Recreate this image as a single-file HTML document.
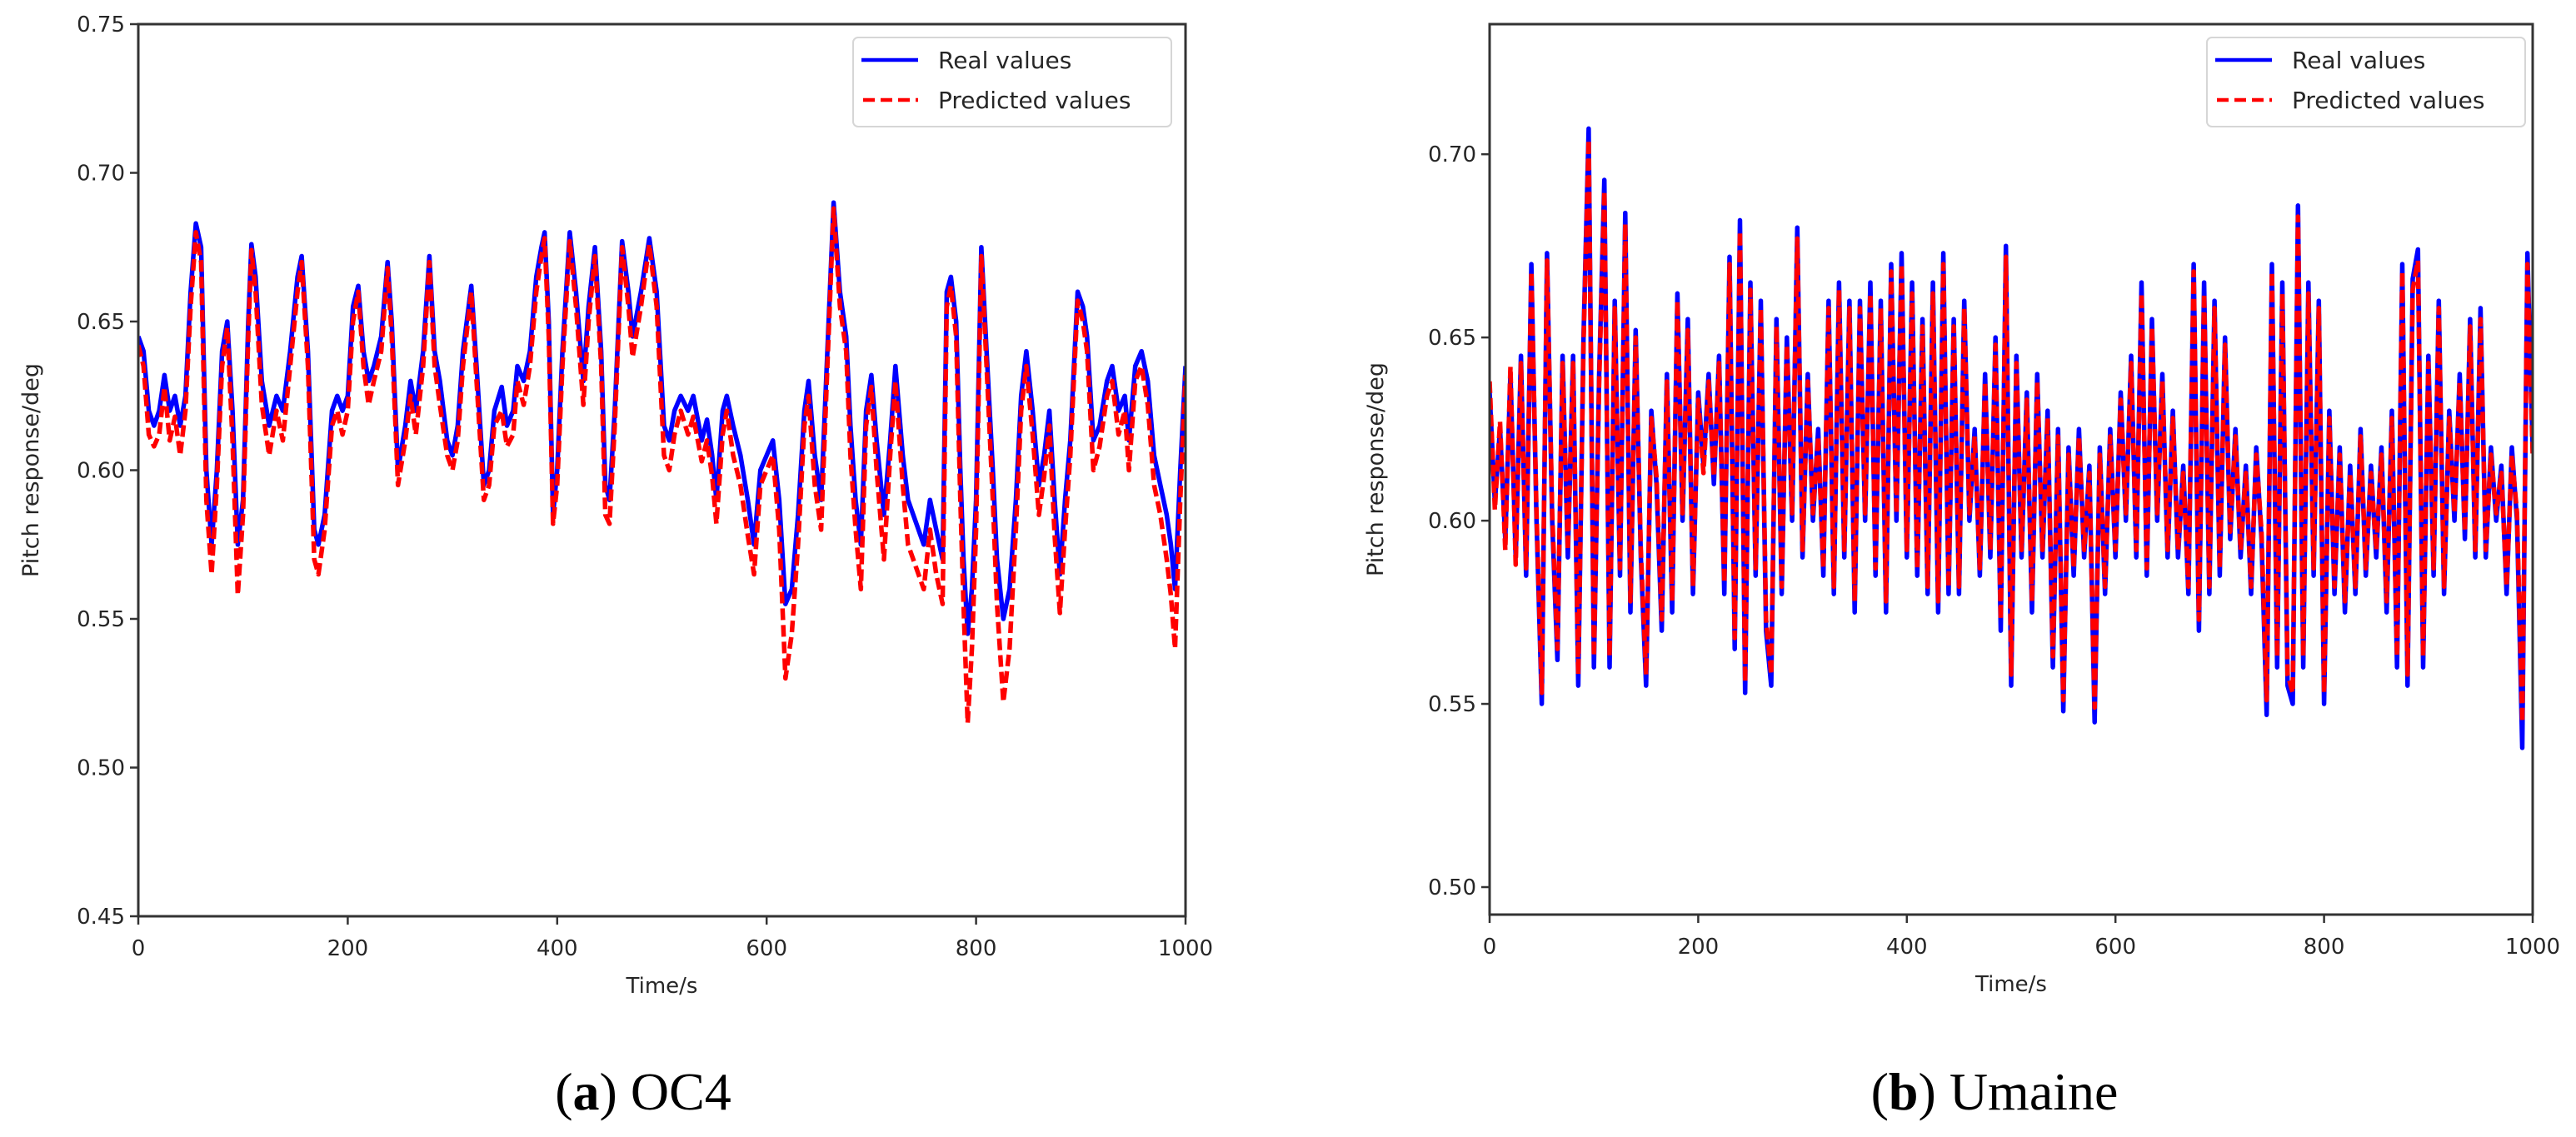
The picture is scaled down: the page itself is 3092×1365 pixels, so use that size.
<!DOCTYPE html>
<html><head><meta charset="utf-8">
<style>
html,body{margin:0;padding:0;background:#fff;}
svg{display:block;}
text{font-family:"DejaVu Sans","Liberation Sans",sans-serif;fill:#262626;}
.cap{font-family:"Liberation Serif",serif;fill:#000;}
</style></head>
<body>
<svg id="fig" width="3092" height="1365" viewBox="0 0 3092 1365" xmlns="http://www.w3.org/2000/svg">
<g id="chartA"></g>
<g id="chartB"></g>
<text class="cap" x="772" y="1332" font-size="64" text-anchor="middle">(<tspan font-weight="bold">a</tspan>) OC4</text>
<text class="cap" x="2394" y="1332" font-size="64" text-anchor="middle">(<tspan font-weight="bold">b</tspan>) Umaine</text>
</svg>
<script>
// ---- Chart A (OC4) data ----
const timesA = [0,5,10,15,20,25,30,35,40,45,50,55,60,65,70,75,80,85,90,95,100,105,108,112,118,125,132,138,145,152,156,162,168,172,178,185,190,195,200,205,210,215,220,225,232,238,242,248,255,260,265,272,278,283,288,295,300,305,310,318,323,330,335,340,347,352,358,362,368,374,380,385,388,392,396,400,405,412,418,425,430,436,442,446,450,455,462,468,472,480,488,495,502,507,512,518,525,530,538,543,548,552,558,562,568,575,582,588,594,600,606,612,618,624,630,636,640,646,652,658,664,670,676,680,685,690,695,700,705,712,718,723,730,735,740,745,750,756,762,768,772,776,781,785,788,792,796,800,805,810,816,820,826,832,838,843,848,854,860,865,870,875,880,885,890,897,902,906,912,918,925,930,936,942,946,952,958,964,970,976,982,986,990,995,1000];
const realA = [0.645,0.64,0.62,0.615,0.62,0.632,0.62,0.625,0.615,0.625,0.66,0.683,0.675,0.60,0.575,0.60,0.64,0.65,0.62,0.575,0.59,0.65,0.676,0.665,0.63,0.615,0.625,0.62,0.64,0.665,0.672,0.64,0.58,0.575,0.585,0.62,0.625,0.62,0.625,0.655,0.662,0.64,0.63,0.635,0.645,0.67,0.65,0.60,0.615,0.63,0.62,0.64,0.672,0.64,0.63,0.61,0.605,0.615,0.64,0.662,0.635,0.595,0.60,0.62,0.628,0.615,0.62,0.635,0.63,0.64,0.665,0.675,0.68,0.65,0.585,0.60,0.64,0.68,0.66,0.63,0.655,0.675,0.64,0.595,0.59,0.62,0.677,0.66,0.645,0.66,0.678,0.66,0.615,0.61,0.62,0.625,0.62,0.625,0.61,0.617,0.605,0.59,0.62,0.625,0.615,0.605,0.59,0.575,0.60,0.605,0.61,0.59,0.555,0.56,0.585,0.62,0.63,0.605,0.59,0.64,0.69,0.66,0.645,0.615,0.59,0.575,0.62,0.632,0.61,0.585,0.61,0.635,0.605,0.59,0.585,0.58,0.575,0.59,0.58,0.57,0.66,0.665,0.65,0.60,0.57,0.545,0.56,0.59,0.675,0.64,0.60,0.57,0.55,0.56,0.59,0.625,0.64,0.62,0.595,0.605,0.62,0.59,0.565,0.59,0.61,0.66,0.655,0.645,0.61,0.615,0.63,0.635,0.62,0.625,0.61,0.635,0.64,0.63,0.605,0.595,0.585,0.575,0.56,0.60,0.635];
const predA = [0.642,0.635,0.612,0.608,0.612,0.628,0.61,0.618,0.605,0.62,0.655,0.68,0.67,0.59,0.565,0.595,0.635,0.648,0.61,0.558,0.585,0.645,0.674,0.66,0.622,0.605,0.62,0.61,0.635,0.66,0.67,0.635,0.57,0.565,0.58,0.615,0.62,0.612,0.62,0.65,0.66,0.635,0.622,0.63,0.64,0.668,0.645,0.595,0.61,0.625,0.612,0.635,0.67,0.635,0.622,0.605,0.60,0.61,0.635,0.66,0.63,0.59,0.595,0.615,0.62,0.608,0.612,0.63,0.622,0.635,0.66,0.672,0.678,0.645,0.582,0.595,0.635,0.677,0.655,0.622,0.65,0.672,0.635,0.585,0.582,0.615,0.675,0.655,0.638,0.655,0.676,0.655,0.605,0.60,0.612,0.62,0.612,0.618,0.603,0.61,0.598,0.582,0.612,0.62,0.605,0.595,0.578,0.565,0.595,0.60,0.605,0.58,0.53,0.545,0.575,0.615,0.625,0.595,0.58,0.635,0.688,0.655,0.64,0.605,0.58,0.56,0.615,0.628,0.60,0.57,0.605,0.63,0.595,0.575,0.57,0.565,0.56,0.58,0.565,0.555,0.655,0.662,0.645,0.59,0.555,0.515,0.54,0.58,0.672,0.635,0.59,0.555,0.522,0.54,0.58,0.62,0.635,0.612,0.585,0.598,0.615,0.578,0.552,0.58,0.605,0.657,0.65,0.64,0.6,0.608,0.625,0.63,0.612,0.62,0.6,0.63,0.635,0.622,0.595,0.585,0.57,0.558,0.54,0.59,0.632];
const xTicksA = [0,200,400,600,800,1000];
const yTicksA = [0.45,0.50,0.55,0.60,0.65,0.70,0.75];
const yTickLabelsA = ["0.45","0.50","0.55","0.60","0.65","0.70","0.75"];

// ---- Chart B (Umaine) data ----
const timesB = [0,5,10,15,20,25,30,35,40,45,50,55,60,65,70,75,80,85,90,95,100,105,110,115,120,125,130,135,140,145,150,155,160,165,170,175,180,185,190,195,200,205,210,215,220,225,230,235,240,245,250,255,260,265,270,275,280,285,290,295,300,305,310,315,320,325,330,335,340,345,350,355,360,365,370,375,380,385,390,395,400,405,410,415,420,425,430,435,440,445,450,455,460,465,470,475,480,485,490,495,500,505,510,515,520,525,530,535,540,545,550,555,560,565,570,575,580,585,590,595,600,605,610,615,620,625,630,635,640,645,650,655,660,665,670,675,680,685,690,695,700,705,710,715,720,725,730,735,740,745,750,755,760,765,770,775,780,785,790,795,800,805,810,815,820,825,830,835,840,845,850,855,860,865,870,875,880,885,890,895,900,905,910,915,920,925,930,935,940,945,950,955,960,965,970,975,980,985,990,995,1000];
const realB = [0.635,0.605,0.625,0.595,0.64,0.59,0.645,0.585,0.67,0.60,0.55,0.673,0.60,0.562,0.645,0.59,0.645,0.555,0.65,0.707,0.56,0.64,0.693,0.56,0.66,0.585,0.684,0.575,0.652,0.59,0.555,0.63,0.61,0.57,0.64,0.575,0.662,0.60,0.655,0.58,0.635,0.615,0.64,0.61,0.645,0.58,0.672,0.565,0.682,0.553,0.665,0.585,0.66,0.57,0.555,0.655,0.58,0.65,0.60,0.68,0.59,0.64,0.60,0.625,0.585,0.66,0.58,0.665,0.59,0.66,0.575,0.66,0.60,0.665,0.585,0.66,0.575,0.67,0.60,0.673,0.59,0.665,0.585,0.655,0.58,0.665,0.575,0.673,0.58,0.655,0.58,0.66,0.60,0.625,0.585,0.64,0.59,0.65,0.57,0.675,0.555,0.645,0.59,0.635,0.575,0.64,0.59,0.63,0.56,0.625,0.548,0.62,0.585,0.625,0.59,0.615,0.545,0.62,0.58,0.625,0.59,0.635,0.60,0.645,0.59,0.665,0.585,0.655,0.60,0.64,0.59,0.63,0.59,0.615,0.58,0.67,0.57,0.665,0.58,0.66,0.585,0.65,0.595,0.625,0.59,0.615,0.58,0.62,0.595,0.547,0.67,0.56,0.665,0.555,0.55,0.686,0.56,0.665,0.585,0.66,0.55,0.63,0.58,0.62,0.575,0.615,0.58,0.625,0.585,0.615,0.59,0.62,0.575,0.63,0.56,0.67,0.555,0.666,0.674,0.56,0.645,0.585,0.66,0.58,0.63,0.60,0.64,0.595,0.655,0.59,0.658,0.59,0.62,0.60,0.615,0.58,0.62,0.60,0.538,0.673,0.62];
const predB = [0.638,0.603,0.627,0.592,0.642,0.588,0.643,0.587,0.668,0.602,0.553,0.671,0.602,0.565,0.643,0.592,0.643,0.558,0.648,0.704,0.563,0.638,0.69,0.563,0.658,0.587,0.681,0.578,0.65,0.592,0.558,0.628,0.612,0.573,0.638,0.578,0.66,0.602,0.652,0.582,0.633,0.613,0.638,0.612,0.643,0.583,0.67,0.568,0.679,0.556,0.663,0.587,0.658,0.573,0.558,0.653,0.582,0.648,0.602,0.677,0.592,0.638,0.602,0.623,0.587,0.658,0.582,0.663,0.592,0.658,0.578,0.658,0.602,0.662,0.587,0.658,0.578,0.668,0.602,0.67,0.592,0.662,0.587,0.653,0.582,0.662,0.578,0.67,0.582,0.653,0.582,0.658,0.602,0.623,0.587,0.638,0.592,0.648,0.573,0.672,0.558,0.643,0.592,0.633,0.578,0.638,0.592,0.628,0.563,0.623,0.551,0.618,0.587,0.623,0.592,0.613,0.549,0.618,0.582,0.623,0.592,0.633,0.602,0.643,0.592,0.662,0.587,0.653,0.602,0.638,0.592,0.628,0.592,0.613,0.582,0.668,0.573,0.662,0.582,0.658,0.587,0.648,0.597,0.623,0.592,0.613,0.582,0.618,0.597,0.551,0.668,0.563,0.662,0.558,0.553,0.683,0.563,0.662,0.587,0.658,0.553,0.628,0.582,0.618,0.578,0.613,0.582,0.623,0.587,0.613,0.592,0.618,0.578,0.628,0.563,0.668,0.558,0.663,0.671,0.563,0.643,0.587,0.658,0.582,0.628,0.602,0.638,0.597,0.653,0.592,0.655,0.592,0.618,0.602,0.613,0.582,0.618,0.602,0.545,0.67,0.618];
const xTicksB = [0,200,400,600,800,1000];
const yTicksB = [0.50,0.55,0.60,0.65,0.70];
const yTickLabelsB = ["0.50","0.55","0.60","0.65","0.70"];

const NS = "http://www.w3.org/2000/svg";
function mk(parent, tag, attrs){
  const e = document.createElementNS(NS, tag);
  for (const k in attrs) e.setAttribute(k, attrs[k]);
  parent.appendChild(e);
  return e;
}

function drawChart(g, cfg){
  const L=cfg.left, R=cfg.right, T=cfg.top, B=cfg.bottom;
  const sx = t => L + (t - cfg.xmin) / (cfg.xmax - cfg.xmin) * (R - L);
  const sy = v => B - (v - cfg.ymin) / (cfg.ymax - cfg.ymin) * (B - T);

  const cp = mk(g, "clipPath", {id: cfg.id + "-clip"});
  mk(cp, "rect", {x: L, y: T, width: R - L, height: B - T});

  const toPts = (ts, vs) => ts.map((t,i) => sx(t).toFixed(1) + "," + sy(vs[i]).toFixed(1)).join(" ");
  const real = mk(g, "polyline", {points: toPts(cfg.times, cfg.real), fill: "none", stroke: "#0000ff", "stroke-width": 5.5, "stroke-linejoin": "round", "clip-path": "url(#" + cfg.id + "-clip)"});
  
  
  const pred = mk(g, "polyline", {points: toPts(cfg.times, cfg.pred), fill: "none", stroke: "#ff0000", "stroke-width": 5.5, "stroke-dasharray": "14,6", "stroke-linejoin": "round", "clip-path": "url(#" + cfg.id + "-clip)"});
  
  

  const frame = mk(g, "rect", {x: L, y: T, width: R - L, height: B - T, fill: "none", stroke: "#333", "stroke-width": 3});
  
  

  cfg.xTicks.forEach(t => {
    const x = sx(t);
    const tk = mk(g, "line", {x1: x, y1: B, x2: x, y2: B + 10, stroke: "#333", "stroke-width": 2.5});
    
    
    const lb = mk(g, "text", {x: x, y: B + 47, "font-size": 26, "text-anchor": "middle"});
    lb.textContent = String(t);
    
    
  });
  cfg.yTicks.forEach((v,i) => {
    const y = sy(v);
    const tk = mk(g, "line", {x1: L - 10, y1: y, x2: L, y2: y, stroke: "#333", "stroke-width": 2.5});
    
    
    const lb = mk(g, "text", {x: L - 16, y: y + 9, "font-size": 26, "text-anchor": "end"});
    lb.textContent = cfg.yLabels[i];
    
    
  });
  const xt = mk(g, "text", {x: (L + R) / 2, y: B + 92, "font-size": 26, "text-anchor": "middle"});
  xt.textContent = "Time/s";
  
  
  const cy = (T + B) / 2;
  const yt = mk(g, "text", {x: cfg.ylabelX, y: cy, "font-size": 27, "text-anchor": "middle", transform: "rotate(-90 " + cfg.ylabelX + " " + cy + ")"});
  yt.textContent = "Pitch response/deg";
  
  

  const lg = mk(g, "g", {});
  
  
  const lx = cfg.legendX, ly = 45;
  mk(lg, "rect", {x: lx, y: ly, width: 382, height: 107, rx: 6, fill: "#fff", stroke: "#d6d6d6", "stroke-width": 2});
  const l1 = mk(lg, "line", {x1: lx + 10, y1: ly + 27, x2: lx + 78, y2: ly + 27, stroke: "#0000ff", "stroke-width": 4.5});
  
  
  const t1 = mk(lg, "text", {x: lx + 102, y: ly + 37, "font-size": 28});
  t1.textContent = "Real values";
  
  
  const l2 = mk(lg, "line", {x1: lx + 12, y1: ly + 75, x2: lx + 78, y2: ly + 75, stroke: "#ff0000", "stroke-width": 4.5, "stroke-dasharray": "14,7"});
  
  
  const t2 = mk(lg, "text", {x: lx + 102, y: ly + 85, "font-size": 28});
  t2.textContent = "Predicted values";
  
  
}

drawChart(document.getElementById("chartA"), {
  id: "a", left: 166, right: 1423, top: 29, bottom: 1100,
  xmin: 0, xmax: 1000, ymin: 0.45, ymax: 0.75,
  times: timesA, real: realA, pred: predA,
  xTicks: xTicksA, yTicks: yTicksA, yLabels: yTickLabelsA,
  ylabelX: 46, legendX: 1024
});
drawChart(document.getElementById("chartB"), {
  id: "b", left: 1788, right: 3040, top: 29, bottom: 1098,
  xmin: 0, xmax: 1000, ymin: 0.4925, ymax: 0.7355,
  times: timesB, real: realB, pred: predB,
  xTicks: xTicksB, yTicks: yTicksB, yLabels: yTickLabelsB,
  ylabelX: 1660, legendX: 2649
});
</script>
</body></html>
